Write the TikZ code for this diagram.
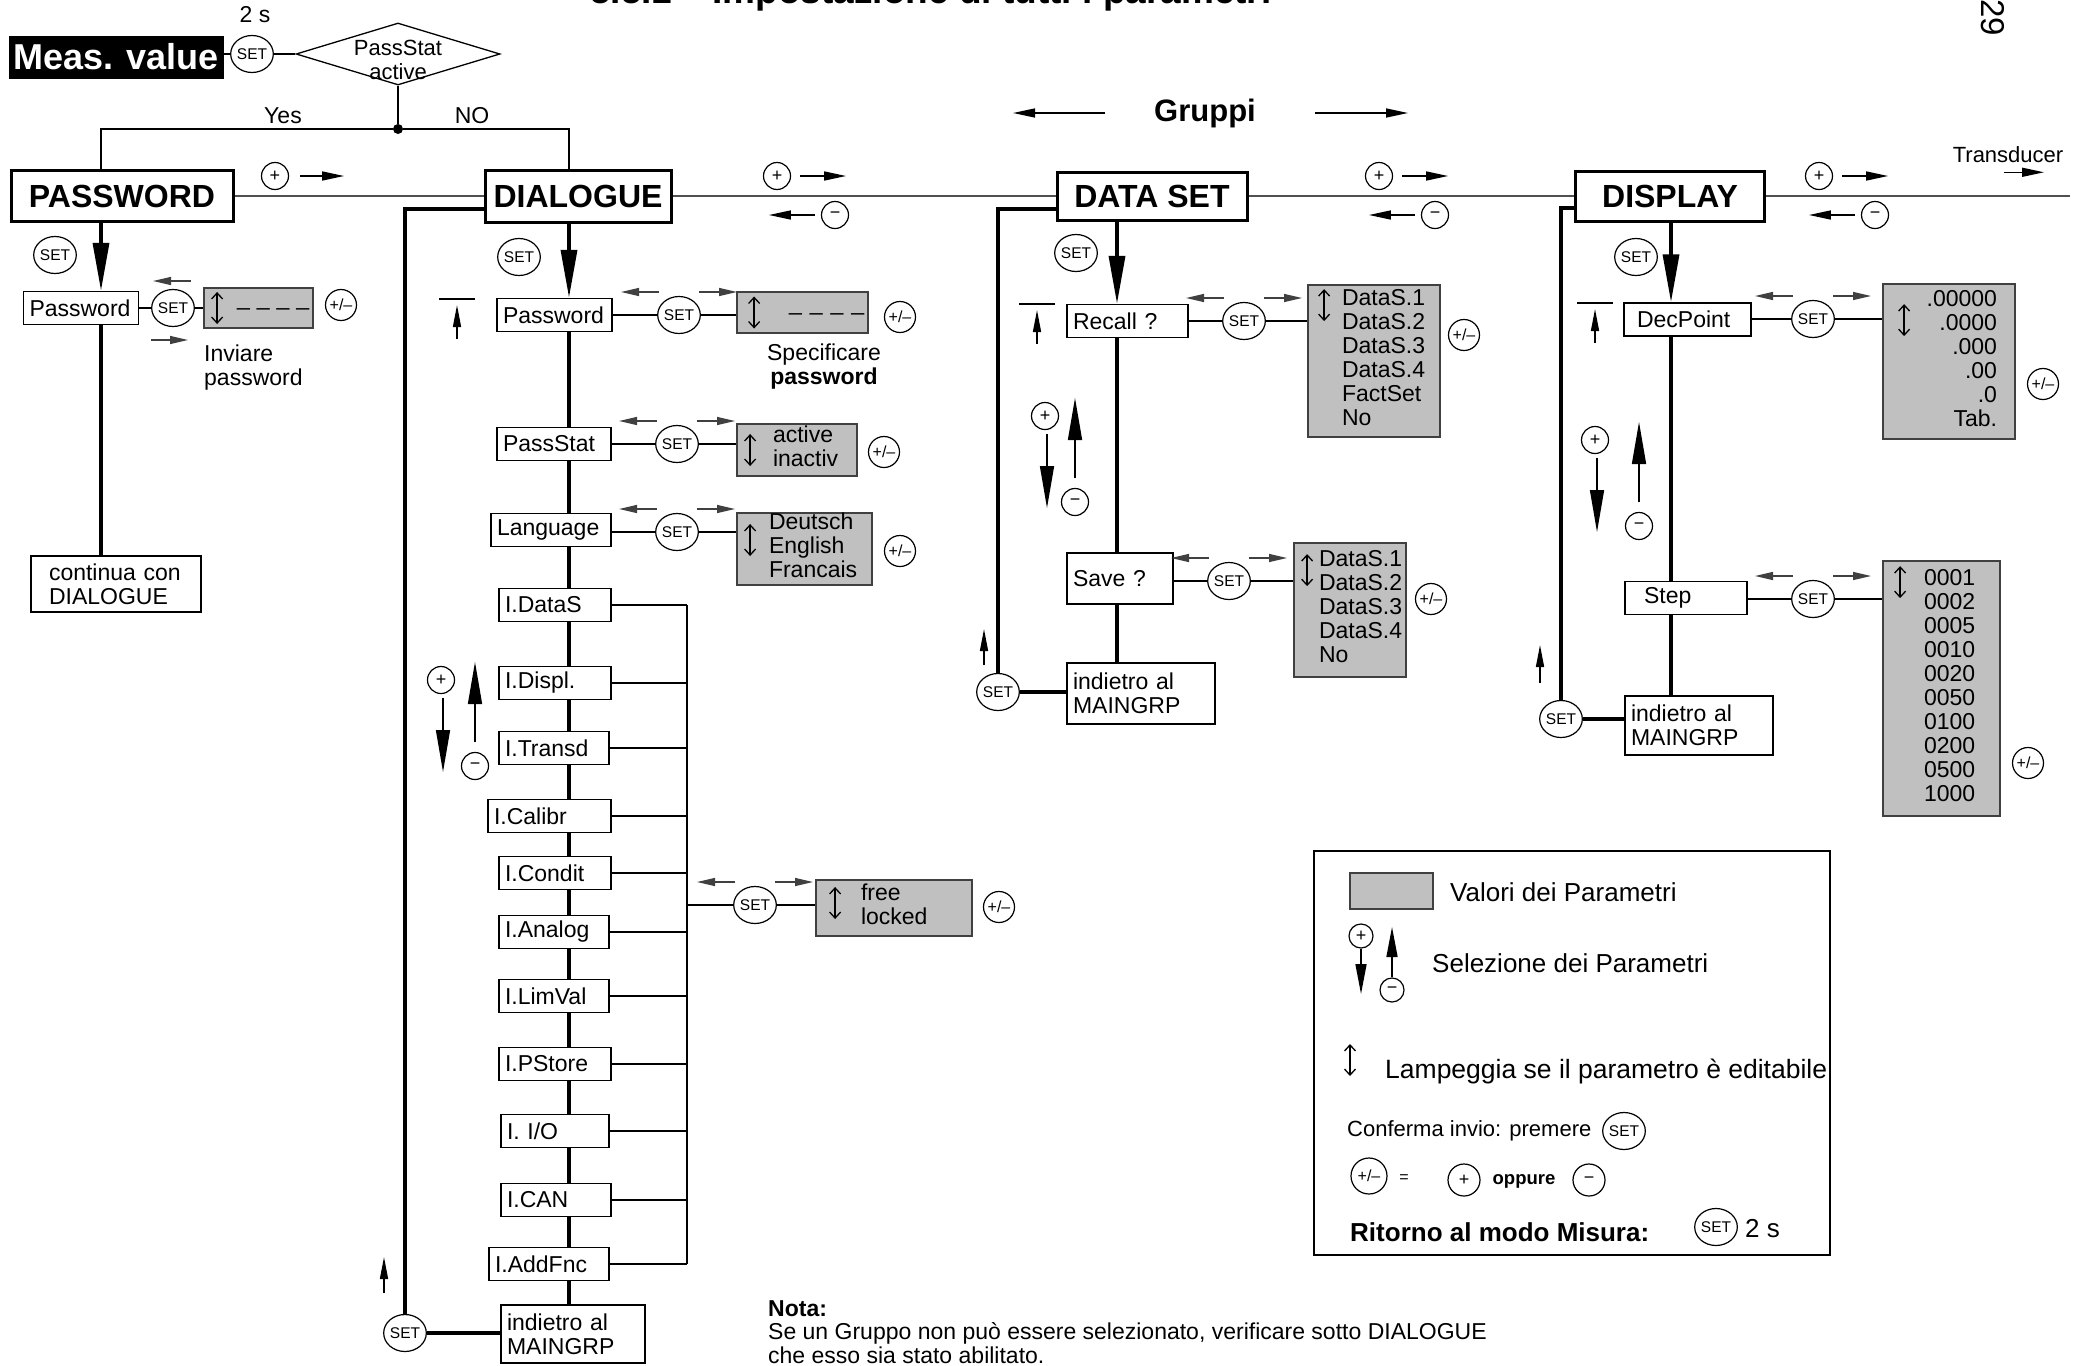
\documentclass[tikz,border=0pt]{standalone}
\usepackage{fontspec}
\setmainfont{Liberation Sans}
\usetikzlibrary{positioning, arrows.meta, calc, shapes.geometric}
\definecolor{valgray}{HTML}{C0C0C0}
\definecolor{frame}{HTML}{404040}
\definecolor{rule}{HTML}{505050}
\newcommand{\fsz}[2]{\fontsize{#1}{#2}\selectfont}
\newcommand{\vals}[2]{\hspace*{#1}\begin{tabular}{@{}l@{}}#2\end{tabular}}

\begin{document}
\begin{tikzpicture}[x=1pt,y=-1pt]
    \tikzset{grp/.style={draw,line width=3pt,inner sep=0pt,font=\fsz{32}{32}\bfseries},
      pbox/.style={draw,line width=1.5pt,inner xsep=6pt,inner ysep=0pt,minimum height=33pt,align=left,font=\fsz{23}{24}},
      valbox/.style={draw=frame,line width=1.8pt,fill=valgray,inner sep=0pt,align=left,font=\fsz{23}{24}},
      setk/.style={ellipse,draw,line width=1.2pt,inner sep=0pt,minimum width=35pt,minimum height=37pt,font=\fsz{15.5}{15.5}},
      pk/.style={circle,draw,line width=1.2pt,inner sep=0pt,minimum size=27pt,font=\fsz{18}{18}},
      pmk/.style={circle,draw,line width=1.2pt,inner sep=0pt,minimum size=31pt,font=\fsz{16}{16}},
      txt/.style={inner sep=0pt,align=left,font=\fsz{23}{24}},
      ln/.style={line width=1.5pt}, hv/.style={line width=3.5pt},
      nav/.style={line width=1.5pt,-{Triangle[length=22pt,width=9pt]}},
      sel/.style={line width=1.3pt,draw=black!75,-{Triangle[length=18pt,width=8pt]}},
      drop/.style={line width=3.5pt,-{Triangle[length=48pt,width=16pt]}},
      scroll/.style={line width=1.5pt,-{Triangle[length=42pt,width=14pt]}},
      back/.style={line width=1.5pt,-{Triangle[length=22pt,width=8pt]}},
      updn/.pic={\draw[line width=1.3pt,{Straight Barb[length=6pt,width=11pt]}-{Straight Barb[length=6pt,width=11pt]}] (0,-16) -- (0,16);},
      topmark/.pic={\draw[ln] (-18,0) -- (18,0); \draw[back] (0,40) -- (0,6);},
      lr/.pic={\draw[sel] (-20,-23) -- (-58,-23); \draw[sel] (20,-23) -- (58,-23);},
      scrl/.pic={\node[pk] (-p) at (0,0) {+}; \draw[scroll] (2,18) -- (2,92); \draw[scroll] (#1,62) -- (#1,-18); \node[pk] (-m) at (#1,86) {−};}}
    \fill[white] (0,0) rectangle (2090,1365);
    \useasboundingbox (0,0) rectangle (2090,1365);

    \node[anchor=base west,inner sep=0pt,font=\fsz{37}{37}\bfseries] (ttl) at (590,4) {5.5.1\hspace{40pt}Impostazione di tutti i parametri};
    \node[rotate=-90,inner sep=0pt,font=\fsz{33}{33}] (pg) at (1993,18) {29};

    % entry and password check
    \node[fill=black,text=white,inner sep=0pt,minimum width=215pt,minimum height=43pt,font=\fsz{36}{36}\bfseries] (meas) at (116,57) {Meas. value};
    \node[setk] (s0) at (252,54) {SET};
    \node[txt] (t2s) at (255,15) {2 s};
    \node[diamond,draw,line width=1.3pt,aspect=3.3,inner sep=0pt,minimum width=204pt,minimum height=62pt] (dia) at (398,54) {};
    \node[txt,align=center,font=\fsz{22}{24}] (diat) at (398,60) {PassStat\\active};
    \node[circle,fill,inner sep=0pt,minimum size=10pt] (jn) at (398,129) {};
    \node[txt] (yes) at (283,116) {Yes};
    \node[txt] (no) at (472,116) {NO};

    % groups
    \node[grp,minimum width=222pt,minimum height=51pt] (pwg) at (122,196) {PASSWORD};
    \node[grp,minimum width=186pt,minimum height=52pt] (dlg) at (578,196) {DIALOGUE};
    \node[grp,minimum width=190pt,minimum height=48pt] (dsg) at (1152,196) {DATA SET};
    \node[grp,minimum width=189pt,minimum height=50pt] (dpg) at (1670,196) {DISPLAY};
    \coordinate (c1) at (101,0); \coordinate (c2) at (569,0); \coordinate (c3) at (1117,0); \coordinate (c4) at (1671,0);
    \coordinate (tend) at (2070,196);
    \draw[ln] (meas.east |- s0) -- (s0) -- (dia);
    \draw[ln] (dia) -- (jn);
    \draw[ln] (jn) -| (c1 |- pwg.north);
    \draw[ln] (jn) -| (c2 |- dlg.north);
    \draw[ln,draw=rule] (pwg) -- (dlg) -- (dsg) -- (dpg) -- (tend);

    \node[pk] (pl0) at (275,176) {+};
    \draw[nav] ([xshift=11pt]pl0.east) -- ++(44,0);
    \foreach \px/\mx [count=\i] in {777/835,1379/1435,1819/1875}{
      \node[pk] (pl\i) at (\px,176) {+};
      \draw[nav] ([xshift=9pt]pl\i.east) -- ++(46,0);
      \node[pk] (mi\i) at (\mx,215) {−};
      \draw[nav] ([xshift=-6pt]mi\i.west) -- ++(-46,0);
    }
    \node[font=\fsz{31}{31}\bfseries,inner sep=0pt] (gruppi) at (1205,113) {Gruppi};
    \draw[nav] ([xshift=-49pt]gruppi.west) -- ++(-92,0);
    \draw[nav] ([xshift=59pt]gruppi.east) -- ++(93,0);
    \node[txt,font=\fsz{22}{22}] (trd) at (2008,155) {Transducer};
    \draw[nav] ([xshift=-4pt,yshift=-9pt]trd.south) -- ++(40,0);

    % PASSWORD
    \node[setk] (ps1) at (55,255) {SET};
    \node[pbox,text width=103pt] (ppw) at (81,308) {Password};
    \node[setk] (ps2) at (173,308) {SET};
    \node[valbox,minimum width=109pt,minimum height=40pt,text width=109pt] (pv) at (258.5,308) {\hspace*{33pt}\_\hspace{7pt}\_\hspace{7pt}\_\hspace{7pt}\_};
    \pic at ([xshift=14pt]pv.west) {updn};
    \node[pmk] (pm0) at (341,305) {+/–};
    \node[txt,anchor=north west] (inv) at (204,345) {Inviare\\password};
    \node[pbox,text width=134pt,inner xsep=18pt,minimum height=56pt] (cont) at (116,584) {continua con\\DIALOGUE};
    \draw[drop] (c1 |- pwg.south) -- (c1 |- ppw.north);
    \draw[ln] (ppw) -- (ps2) -- (pv);
    \draw[sel] ($(ps2)+(18,-27)$) -- ++(-38,0);
    \draw[sel] ($(ps2)+(-22,32)$) -- ++(37,0);
    \draw[hv] (c1 |- ppw.south) -- (c1 |- cont.north);

    % DIALOGUE
    \node[setk] (ds1) at (519,257) {SET};
    \pic at (457,299) {topmark};
    \node[pbox,text width=103pt] (dpw) at (554.5,315) {Password};
    \node[setk] (dset1) at (679,315) {SET};
    \node[valbox,minimum width=131pt,minimum height=41pt,text width=131pt] (dv1) at (802.5,312.5) {\hspace*{52pt}\_\hspace{8pt}\_\hspace{8pt}\_\hspace{8pt}\_};
    \node[txt,align=center] (spec) at (824,367) {Specificare\\\textbf{password}};
    \node[pbox,text width=102pt] (dps) at (554,444) {PassStat};
    \node[setk] (dset2) at (677,444) {SET};
    \node[valbox,minimum width=120pt,minimum height=52pt,text width=120pt] (dv2) at (797,450) {\vals{36pt}{active\\inactiv}};
    \node[pbox,text width=108pt] (dlang) at (551,530) {Language};
    \node[setk] (dset3) at (677,532) {SET};
    \node[valbox,minimum width=135pt,minimum height=72pt,text width=135pt] (dv3) at (804.5,549) {\vals{32pt}{Deutsch\\English\\Francais}};
    \foreach \nm/\lab/\yy/\xx/\tw in {iDS/I.DataS/605/555/100, iDP/I.Displ./683/555/100, iTR/I.Transd/748/554/98,
        iCA/I.Calibr/816/549.5/111, iCO/I.Condit/873/555/100, iAN/I.Analog/932/554/98, iLV/I.LimVal/996/554/98,
        iPS/I.PStore/1064/555/100, iIO/{I. I/O}/1131/555/96, iCN/I.CAN/1200/556/98, iAF/I.AddFnc/1264/549/108}
      \node[pbox,text width=\tw pt] (\nm) at (\xx,\yy) {\lab};
    \node[pbox,text width=132pt,minimum height=58pt] (dback) at (573,1334) {indietro al\\MAINGRP};
    \coordinate (bus) at (687,605);
    \node[setk] (dset4) at (755,905) {SET};
    \node[valbox,minimum width=156pt,minimum height=56pt,text width=156pt] (dv4) at (894,908) {\vals{45pt}{free\\locked}};
    \node[pmk] (pm1) at (900,317) {+/–};
    \node[pmk] (pm2) at (884,452) {+/–};
    \node[pmk] (pm3) at (900,551) {+/–};
    \node[pmk] (pm4) at (999,907) {+/–};
    \pic at ([xshift=18pt]dv1.west) {updn};
    \pic at ([xshift=14pt]dv2.west) {updn};
    \pic at ([xshift=14pt,yshift=9pt]dv3.west) {updn};
    \pic at ([xshift=20pt,yshift=5pt]dv4.west) {updn};
    \draw[drop] (c2 |- dlg.south) -- (c2 |- dpw.north);
    \foreach \a/\b in {dpw/dps,dps/dlang,dlang/iDS,iDS/iDP,iDP/iTR,iTR/iCA,iCA/iCO,iCO/iAN,iAN/iLV,iLV/iPS,iPS/iIO,iIO/iCN,iCN/iAF,iAF/dback}
      \draw[hv] (c2 |- \a.south) -- (c2 |- \b.north);
    \foreach \s/\p/\v in {dset1/dpw/dv1,dset2/dps/dv2,dset3/dlang/dv3}{
      \draw[ln] (\p.east |- \s) -- (\s);
      \draw[ln] (\s) -- (\s -| \v.west);
      \pic at (\s) {lr};
    }
    \foreach \n in {iDS,iDP,iTR,iCA,iCO,iAN,iLV,iPS,iIO,iCN,iAF}
      \draw[ln] (\n.east) -- (\n.east -| bus);
    \draw[ln] (bus) -- (bus |- iAF.east);
    \draw[ln] (bus |- dset4) -- (dset4) -- (dset4 -| dv4.west);
    \pic at (dset4) {lr};
    \pic (dscr) at (441,680) {scrl=34};
    \node[setk] (dret) at (405,1333) {SET};
    \draw[hv] (dret.north) |- ([yshift=-13pt]dlg.west);
    \draw[hv] (dret) -- (dback.west |- dret);
    \draw[back] ([xshift=-21pt,yshift=40pt]dret.center) -- ++(0,-36);

    % DATA SET
    \node[setk] (ss0) at (1076,253) {SET};
    \pic at (1037,304) {topmark};
    \node[pbox,text width=109pt] (drc) at (1127.5,321) {Recall ?};
    \node[setk] (dsS1) at (1244,321) {SET};
    \node[valbox,minimum width=132pt,minimum height=152pt,text width=132pt] (rv) at (1374,361) {\vals{34pt}{DataS.1\\DataS.2\\DataS.3\\DataS.4\\FactSet\\No}};
    \node[pmk] (pm5) at (1464,335) {+/–};
    \node[pbox,text width=94pt,minimum height=51pt] (dsv) at (1120,578.5) {Save ?};
    \node[setk] (dsS2) at (1229,581) {SET};
    \node[valbox,minimum width=112pt,minimum height=134pt,text width=112pt] (sv) at (1350,610) {\vals{25pt}{DataS.1\\DataS.2\\DataS.3\\DataS.4\\No}};
    \node[pmk] (pm6) at (1431,599) {+/–};
    \node[pbox,text width=136pt,minimum height=61pt] (dsback) at (1141,693.5) {indietro al\\MAINGRP};
    \pic at ([xshift=17pt,yshift=-21pt]rv.north west) {updn};
    \pic at ([xshift=14pt,yshift=-28pt]sv.north west) {updn};
    \draw[drop] (c3 |- dsg.south) -- (c3 |- drc.north);
    \draw[hv] (c3 |- drc.south) -- (c3 |- dsv.north);
    \draw[hv] (c3 |- dsv.south) -- (c3 |- dsback.north);
    \foreach \s/\p/\v in {dsS1/drc/rv,dsS2/dsv/sv}{
      \draw[ln] (\p.east |- \s) -- (\s);
      \draw[ln] (\s) -- (\s -| \v.west);
      \pic at (\s) {lr};
    }
    \pic (sscr) at (1045,416) {scrl=30};
    \node[setk] (dsret) at (998,692) {SET};
    \draw[hv] (dsret.north) |- ([yshift=-13pt]dsg.west);
    \draw[hv] (dsret) -- (dsback.west |- dsret);
    \draw[back] ([xshift=-14pt,yshift=27pt]dsret.center) -- ++(0,-36);

    % DISPLAY
    \node[setk] (dp0) at (1636,257) {SET};
    \pic at (1595,303) {topmark};
    \node[pbox,text width=115pt] (ddp) at (1687.5,319.5) {\hspace*{7pt}DecPoint};
    \node[setk] (dpS1) at (1813,319) {SET};
    \node[valbox,minimum width=132pt,minimum height=155pt,text width=132pt,align=right] (decv) at (1949,361.5) {\begin{tabular}{@{}r@{\hspace{18pt}}}.00000\\.0000\\.000\\.00\\.0\\Tab.\end{tabular}};
    \node[pmk] (pm7) at (2043,384) {+/–};
    \node[pbox,text width=110pt] (dst) at (1686,598) {\hspace*{13pt}Step};
    \node[setk] (dpS2) at (1813,599) {SET};
    \node[valbox,minimum width=117pt,minimum height=255pt,text width=117pt] (stv) at (1941.5,688.5) {\vals{41pt}{0001\\0002\\0005\\0010\\0020\\0050\\0100\\0200\\0500\\1000}};
    \node[pmk] (pm8) at (2028,763) {+/–};
    \node[pbox,text width=136pt,minimum height=59pt] (dpback) at (1699,725.5) {indietro al\\MAINGRP};
    \pic at ([xshift=22pt,yshift=-37pt]decv.north west) {updn};
    \pic at ([xshift=18pt,yshift=-22pt]stv.north west) {updn};
    \draw[drop] (c4 |- dpg.south) -- (c4 |- ddp.north);
    \draw[hv] (c4 |- ddp.south) -- (c4 |- dst.north);
    \draw[hv] (c4 |- dst.south) -- (c4 |- dpback.north);
    \foreach \s/\p/\v in {dpS1/ddp/decv,dpS2/dst/stv}{
      \draw[ln] (\p.east |- \s) -- (\s);
      \draw[ln] (\s) -- (\s -| \v.west);
      \pic at (\s) {lr};
    }
    \pic (pscr) at (1595,440) {scrl=44};
    \node[setk] (dpret) at (1561,719) {SET};
    \draw[hv] (dpret.north) |- ([yshift=-12pt]dpg.west);
    \draw[hv] (dpret) -- (dpback.west |- dpret);
    \draw[back] ([xshift=-21pt,yshift=36pt]dpret.center) -- ++(0,-38);

    % legend
    \node[draw,line width=2.5pt,minimum width=516pt,minimum height=404pt,inner sep=0pt] (leg) at (1572,1053) {};
    \node[draw=frame,line width=1.5pt,fill=valgray,minimum width=83pt,minimum height=36pt,inner sep=0pt] (sw) at (1391.5,891) {};
    \node[txt,anchor=west,font=\fsz{26}{26}] (lg1) at (1450,892) {Valori dei Parametri};
    \node[pk,minimum size=24pt] (lgp0) at (1361,936) {+};
    \node[pk,minimum size=24pt] (lgm0) at (1392,990) {−};
    \draw[line width=1.5pt,-{Triangle[length=30pt,width=11pt]}] (lgp0) -- ++(0,58);
    \draw[line width=1.5pt,-{Triangle[length=30pt,width=11pt]}] (lgm0) ++(0,-13) -- ++(0,-50);
    \node[txt,anchor=west,font=\fsz{26}{26}] (lg2) at (1432,963) {Selezione dei Parametri};
    \pic at (1350,1060) {updn};
    \node[txt,anchor=west,font=\fsz{26.5}{26.5}] (lg3) at (1385,1071) {Lampeggia se il parametro è editabile};
    \node[txt,anchor=west,font=\fsz{22}{24}] (lg4) at (1347,1131) {Conferma invio: premere};
    \node[setk] (lgs1) at (1624,1131) {SET};
    \node[pmk,minimum size=36pt] (lgpm) at (1369,1176) {+/–};
    \node[txt,font=\fsz{16}{16}] (lgeq) at (1404,1179) {=};
    \node[pk,minimum size=32pt] (lgp) at (1464,1180) {+};
    \node[txt,font=\fsz{18.5}{18.5}\bfseries] (lgo) at (1524,1181) {oppure};
    \node[pk,minimum size=32pt] (lgm) at (1589,1180) {−};
    \node[txt,anchor=west,font=\fsz{26}{26}\bfseries] (lg5) at (1350,1232) {Ritorno al modo Misura:};
    \node[setk] (lgs2) at (1716,1227) {SET};
    \node[txt,anchor=west,font=\fsz{26}{26}] (lg6) at (1745,1229) {2 s};

    % note
    \node[txt,anchor=north west,font=\fsz{23}{23.5}] (nota) at (768,1300) {\textbf{Nota:}\\Se un Gruppo non può essere selezionato, verificare sotto DIALOGUE\\che esso sia stato abilitato.};
  \end{tikzpicture}
\end{document}
